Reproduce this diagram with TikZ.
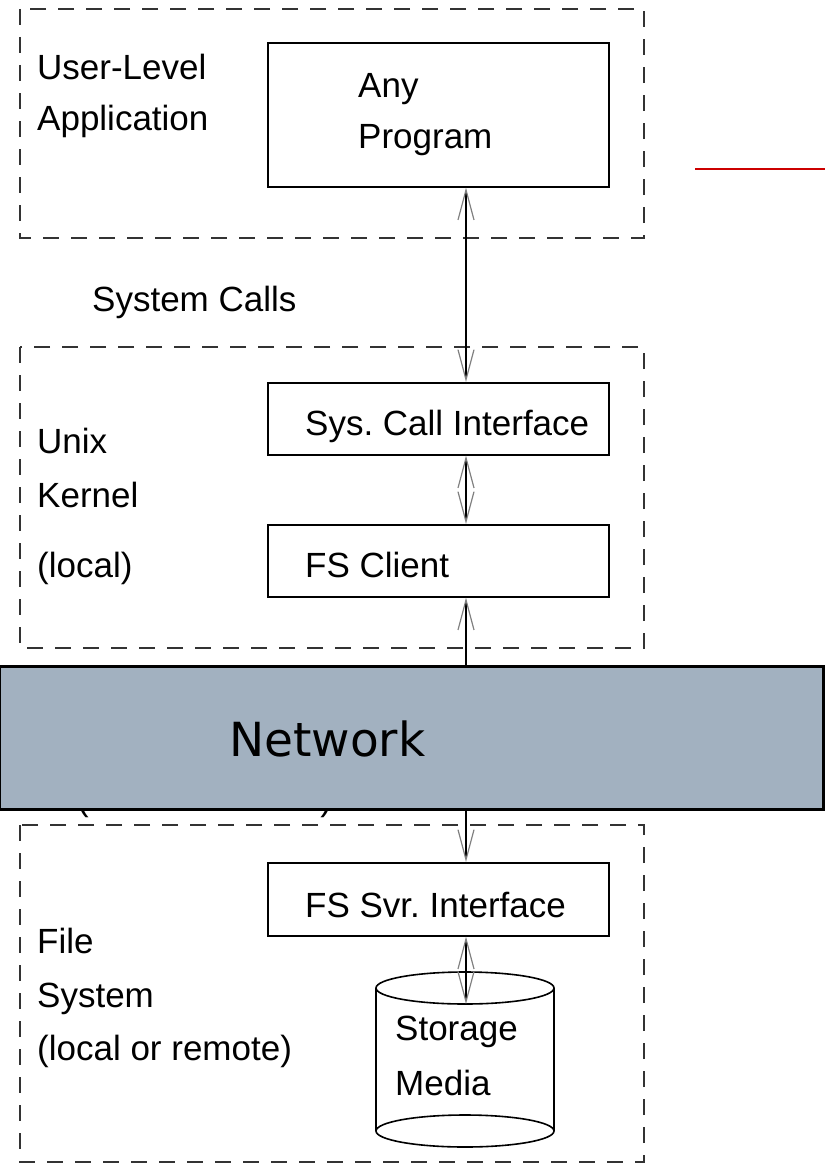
\documentclass[tikz,border=0pt]{standalone}
\usepackage{fontspec}
\setmainfont{Liberation Sans}
\newfontfamily\netFont{DejaVu Sans}
\usetikzlibrary{arrows.meta}
\definecolor{netGray}{RGB}{162,177,192}
\definecolor{markRed}{RGB}{204,0,0}
\frenchspacing

\begin{document}
\begin{tikzpicture}[x=1pt,y=-1pt,%%
  regionStyle/.style={draw=black!80,line width=2pt,dash pattern=on 16pt off 12pt},%%
  boxStyle/.style={draw,line width=1.6pt,minimum width=341pt,anchor=north west,inner sep=0pt},%%
  labelStyle/.style={anchor=base west,inner sep=0pt,font=\fontsize{35}{42}\selectfont},%%
  arrowStyle/.style={<->,>={Straight Barb[length=30pt,width=16pt,line width=1.2pt,color=black!50]},line width=1.8pt},%%
  netStyle/.style={draw,line width=2.5pt,fill=netGray,anchor=north west,inner sep=0pt}%%
]
%%
%%
\pgfmathsetmacro{\regionLeft}{20}
\pgfmathsetmacro{\regionRight}{644}
\pgfmathsetmacro{\boxLeft}{267}
\pgfmathsetmacro{\busX}{466}
\pgfmathsetmacro{\textX}{37}
\pgfmathsetmacro{\innerX}{305}
%%
\useasboundingbox (0,0) rectangle (825,1164);
\coordinate (bus) at (\busX,0);
%%
%% Dashed regions for the three layers.
\draw[regionStyle] (\regionLeft,9) rectangle (\regionRight,238);
\draw[regionStyle] (\regionLeft,347) rectangle (\regionRight,648);
\draw[regionStyle] (\regionLeft,825) rectangle (\regionRight,1162);
%% Layer labels.
\node[labelStyle] (userLevel) at (\textX,80) {User-Level};
\node[labelStyle] (application) at (\textX,130) {Application};
\node[labelStyle] (systemCalls) at (92,311) {System Calls};
\node[labelStyle] (unix) at (\textX,453) {Unix};
\node[labelStyle] (kernel) at (\textX,507) {Kernel};
\node[labelStyle] (local) at (\textX,577) {(local)};
\node[labelStyle] (hiddenLabel) at (77,810) {(local or remote)};
\node[labelStyle] (file) at (\textX,953) {File};
\node[labelStyle] (system) at (\textX,1007) {System};
\node[labelStyle] (localRemote) at (\textX,1060) {(local or remote)};
%%
%% The boxes and their texts.
\node[boxStyle,minimum height=144pt] (program) at (\boxLeft,42) {};
\node[labelStyle] (any) at (358,97) {Any};
\node[labelStyle] (programText) at (358,148) {Program};
\node[boxStyle,minimum height=72pt] (sysCall) at (\boxLeft,382) {};
\node[labelStyle] (sysCallText) at (\innerX,435) {Sys. Call Interface};
\node[boxStyle,minimum height=72pt] (fsClient) at (\boxLeft,524) {};
\node[labelStyle] (fsClientText) at (\innerX,577) {FS Client};
\node[boxStyle,minimum height=73pt] (fsServer) at (\boxLeft,862) {};
\node[labelStyle] (fsServerText) at (\innerX,917) {FS Svr. Interface};
%% Storage media cylinder.
\draw[line width=1.6pt] (376,988) -- (376,1131) (554,988) -- (554,1131);
\draw[line width=1.6pt] (465,988) ellipse [x radius=89, y radius=16];
\draw[line width=1.6pt] (465,1131) ellipse [x radius=89, y radius=16];
\coordinate (mediaTop) at (\busX,1004);
\node[labelStyle] (storage) at (395,1040) {Storage};
\node[labelStyle] (media) at (395,1095) {Media};
%%
%% Calls from layer to layer.
\draw[arrowStyle] (program.south -| bus) -- (sysCall.north -| bus);
\draw[arrowStyle] (sysCall.south -| bus) -- (fsClient.north -| bus);
\draw[arrowStyle] (fsClient.south -| bus) -- (fsServer.north -| bus);
\draw[arrowStyle] (fsServer.south -| bus) -- (mediaTop);
%%
%% The network band on top.
\node[netStyle,minimum width=824pt,minimum height=143pt] (network) at (-2,665) {};
\node[anchor=base west,inner sep=0pt,font=\netFont\fontsize{47}{56}\selectfont] (networkText) at (229,756) {Network};
%% Red mark at the right.
\draw[markRed,line width=2pt] (695,169) -- (825,169);
\end{tikzpicture}
\end{document}
